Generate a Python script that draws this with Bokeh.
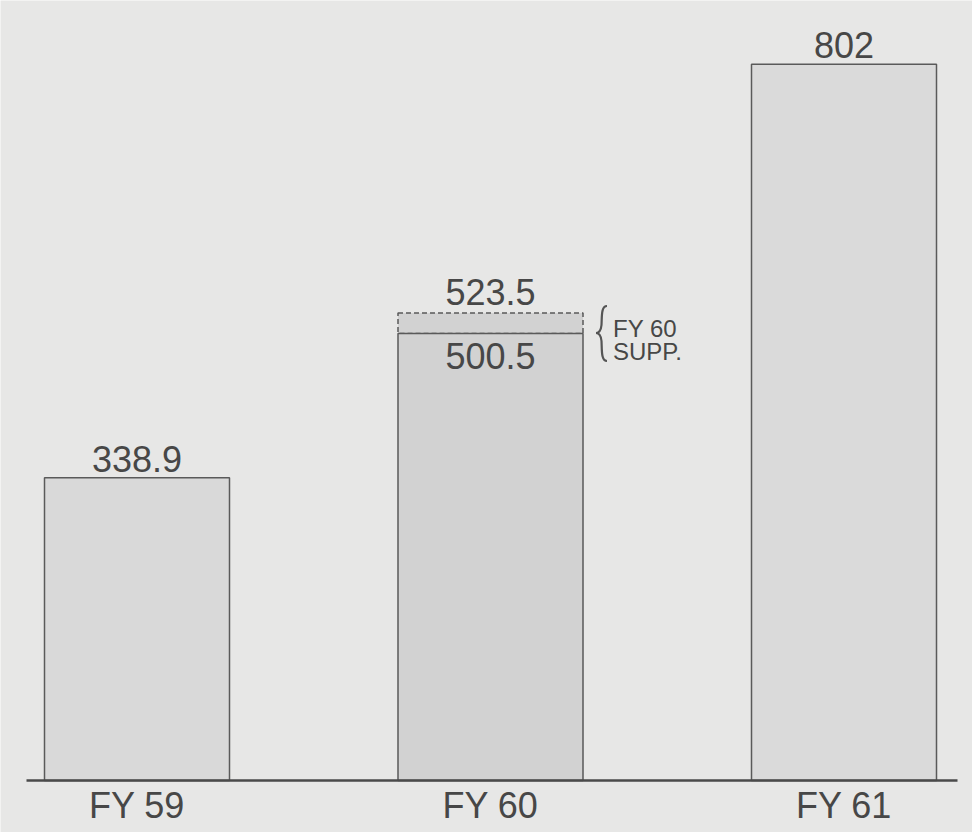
from bokeh.plotting import figure
from bokeh.models import Range1d
from bokeh.core.properties import value
from bokeh.embed import file_html
from bokeh.resources import INLINE

# ---- data ----
categories = ["FY 59", "FY 60", "FY 61"]
base_values = [338.9, 500.5, 802.0]
base_labels = ["338.9", "500.5", "802"]
supp_category = "FY 60"
supp_total = 523.5
supp_label = "523.5"
supp_note = ["FY 60", "SUPP."]

# ---- layout / style ----
W, H = 972, 832
X_PX_PER_UNIT = 353.5
X0_PX = 136.5
Y_PX_PER_UNIT = 0.893
BASE_PX = 780
BAR_W = 185 / X_PX_PER_UNIT

BG = "#e7e7e6"
BAR_COLORS = ["#d9d9d9", "#d2d2d2", "#dadada"]
EDGE = "#5a5a5a"
INK = "#474747"
FONT = value("Liberation Sans")
BIG = 36
SMALL = 24
SHIFT_BIG = 14     # compensation for the svg alphabetic baseline
SHIFT_SMALL = 9

x_start = -X0_PX / X_PX_PER_UNIT
x_end = (W - X0_PX) / X_PX_PER_UNIT
y_start = -(H - BASE_PX) / Y_PX_PER_UNIT
y_end = BASE_PX / Y_PX_PER_UNIT


def px2x(px):
    return x_start + px / X_PX_PER_UNIT


def py2y(py):
    return y_end - py / Y_PX_PER_UNIT


xs = list(range(len(categories)))

p = figure(width=W, height=H, output_backend="svg", toolbar_location=None,
           x_range=Range1d(x_start, x_end), y_range=Range1d(y_start, y_end),
           min_border=0, background_fill_color=BG, border_fill_color=BG)
p.axis.visible = False
p.grid.visible = False
p.outline_line_color = None

# supplemental part (dashed)
si = categories.index(supp_category)
p.vbar(x=[xs[si]], bottom=[base_values[si]], top=[supp_total], width=BAR_W,
       fill_color=BAR_COLORS[si], line_color=EDGE, line_width=1.5, line_dash="5 3")

# base bars
p.vbar(x=xs, bottom=0, top=base_values, width=BAR_W, fill_color=BAR_COLORS,
       line_color=EDGE, line_width=1.5)

# baseline
p.segment(x0=[px2x(26)], y0=[0], x1=[px2x(957)], y1=[0], line_color="#4a4a4a", line_width=2.5)

# value labels
for x, v, lab, c in zip(xs, base_values, base_labels, categories):
    if c == supp_category:
        p.text(x=[x], y=[v], text=[lab], text_align="center", text_baseline="alphabetic",
               y_offset=36 - SHIFT_BIG, text_font=FONT, text_font_size=f"{BIG}px", text_color=INK)
        p.text(x=[x], y=[supp_total], text=[supp_label], text_align="center",
               text_baseline="alphabetic", y_offset=-7 - SHIFT_BIG, text_font=FONT,
               text_font_size=f"{BIG}px", text_color=INK)
    else:
        p.text(x=[x], y=[v], text=[lab], text_align="center", text_baseline="alphabetic",
               y_offset=-5 - SHIFT_BIG, text_font=FONT, text_font_size=f"{BIG}px", text_color=INK)

# category labels
p.text(x=xs, y=[0] * len(xs), text=categories, text_align="center", text_baseline="alphabetic",
       y_offset=39 - SHIFT_BIG, text_font=FONT, text_font_size=f"{BIG}px", text_color=INK)

# supplemental note with brace
bar_right_px = X0_PX + xs[si] * X_PX_PER_UNIT + 185 / 2
note_x = px2x(bar_right_px + 30)
p.text(x=[note_x, note_x], y=[supp_total, supp_total], text=supp_note, text_align="left",
       text_baseline="alphabetic", y_offset=[24 - SHIFT_SMALL, 47 - SHIFT_SMALL], text_font=FONT,
       text_font_size=f"{SMALL}px", text_color=INK)

bx = bar_right_px + 18
top_py = BASE_PX - supp_total * Y_PX_PER_UNIT - 7
mid_py = top_py + 27
bot_py = top_py + 55
curves = [
    ((bx + 6, top_py), (bx, top_py), (bx + 1, top_py + 11), (bx + 0.5, mid_py - 8)),
    ((bx + 0.5, mid_py - 8), (bx, mid_py - 3), (bx - 2, mid_py), (bx - 5, mid_py)),
    ((bx - 5, mid_py), (bx - 2, mid_py), (bx, mid_py + 3), (bx + 0.5, mid_py + 8)),
    ((bx + 0.5, mid_py + 8), (bx + 1, bot_py - 11), (bx, bot_py), (bx + 6, bot_py)),
]
p.bezier(x0=[px2x(c[0][0]) for c in curves], y0=[py2y(c[0][1]) for c in curves],
         cx0=[px2x(c[1][0]) for c in curves], cy0=[py2y(c[1][1]) for c in curves],
         cx1=[px2x(c[2][0]) for c in curves], cy1=[py2y(c[2][1]) for c in curves],
         x1=[px2x(c[3][0]) for c in curves], y1=[py2y(c[3][1]) for c in curves],
         line_color="#555555", line_width=2.2)

open("out.html", "w").write(file_html(p, INLINE))
